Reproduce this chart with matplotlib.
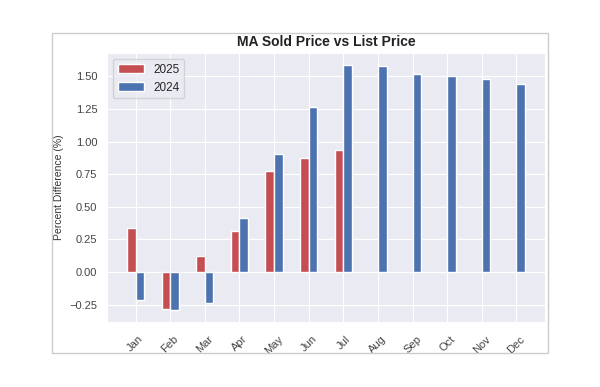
import matplotlib
matplotlib.use("Agg")
import matplotlib.pyplot as plt
import seaborn as sns
import numpy as np

sns.set_style("darkgrid")
plt.rcParams['font.family'] = ['Liberation Sans', 'DejaVu Sans']

# data
months = ['Jan', 'Feb', 'Mar', 'Apr', 'May', 'Jun',
          'Jul', 'Aug', 'Sep', 'Oct', 'Nov', 'Dec']
diff_2025 = [0.337, -0.283, 0.122, 0.314, 0.775, 0.877, 0.933]
diff_2024 = [-0.212, -0.290, -0.237, 0.413, 0.908, 1.267,
             1.586, 1.578, 1.515, 1.500, 1.477, 1.440]

red = '#C44E52'
blue = '#4C72B0'
width = 0.25

fig = plt.figure(figsize=(6, 3.87), dpi=100)
fig.patch.set_facecolor('white')

# light frame round the original figure (the reference is a screenshot)
frame = plt.Rectangle((52 / 600, 1 - 353 / 387), 496 / 600, 320 / 387,
                      transform=fig.transFigure, fill=False,
                      edgecolor='#cccccc', linewidth=1)
fig.patches.append(frame)

ax = fig.add_axes([107 / 600, 1 - 322 / 387, 438 / 600, 269 / 387])

x = np.arange(len(months))
ax.bar(x[:len(diff_2025)] - width / 2, diff_2025, width, color=red, label='2025')
ax.bar(x + width / 2, diff_2024, width, color=blue, label='2024')

ax.set_xticks(x)
ax.set_xticklabels(months, rotation=45, fontsize=8, color='#444444')
ax.tick_params(axis='x', pad=5)
ax.tick_params(axis='y', labelsize=8, labelcolor='#444444')
ax.set_yticks([-0.25, 0.0, 0.25, 0.5, 0.75, 1.0, 1.25, 1.5])
ax.set_ylabel('Percent Difference (%)', fontsize=7.5, color='#333333')
ax.set_title('MA Sold Price vs List Price', fontsize=10, fontweight='bold',
             color='#222222', pad=5)
ax.legend(loc='upper left', fontsize=8.5, frameon=True, handlelength=2.2)

fig.savefig('out.png', dpi=100)
